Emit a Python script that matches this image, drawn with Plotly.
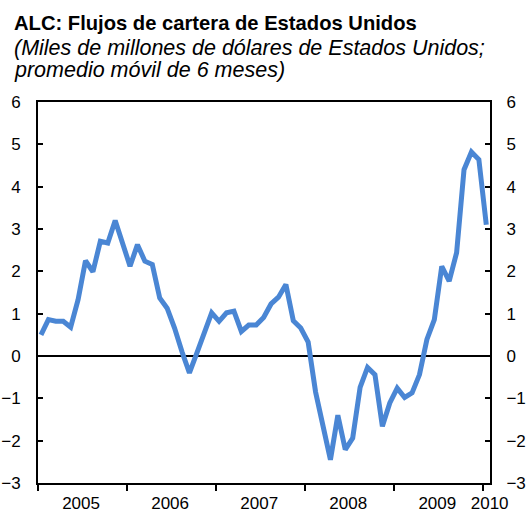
import plotly.graph_objects as go

# Monthly index (0 = Jan 2005)
months = list(range(61))
flows = [0.50, 0.86, 0.82, 0.82, 0.68, 1.33, 2.25, 1.99, 2.71, 2.67,
         3.20, 2.63, 2.12, 2.63, 2.24, 2.16, 1.37, 1.13, 0.66, 0.10,
         -0.40, 0.07, 0.52, 1.02, 0.82, 1.02, 1.06, 0.58, 0.73, 0.73,
         0.91, 1.23, 1.39, 1.69, 0.83, 0.66, 0.33, -0.85, -1.65, -2.45,
         -1.40, -2.21, -1.94, -0.74, -0.27, -0.44, -1.66, -1.11, -0.76, -0.98,
         -0.87, -0.44, 0.39, 0.86, 2.12, 1.77, 2.44, 4.40, 4.82, 4.64,
         3.10]
year_labels = ["2005", "2006", "2007", "2008", "2009", "2010"]
year_label_pos = [5.4, 17.4, 29.4, 41.4, 53.4, 60.45]
y_ticks = [-3, -2, -1, 0, 1, 2, 3, 4, 5, 6]

FONT = "Liberation Sans, Arial, sans-serif"
W, H = 526, 517
L, R, T, B = 38, 36, 102, 34

fig = go.Figure()
fig.add_trace(go.Scatter(x=months, y=flows, mode="lines",
                         line=dict(color="#4A86D4", width=5),
                         showlegend=False, hoverinfo="skip"))
fig.add_trace(go.Scatter(x=[months[0]], y=[flows[0]], yaxis="y2", mode="lines",
                         line=dict(width=0), showlegend=False, hoverinfo="skip"))

fig.add_hline(y=0, line=dict(color="black", width=2), layer="below")

fig.update_layout(
    width=W, height=H,
    margin=dict(l=L, r=R, t=T, b=B),
    paper_bgcolor="white", plot_bgcolor="white",
    font=dict(family=FONT, size=17, color="black"),
    xaxis=dict(range=[-0.4, 60.5], tickmode="array", tickvals=year_label_pos,
               ticktext=year_labels, ticks="", showgrid=False, zeroline=False,
               showline=True, linecolor="black", linewidth=2, mirror=True,
               automargin=False, ticklabelstandoff=4,
               tickfont=dict(size=17),
               minor=dict(tickmode="linear", tick0=-0.4, dtick=12, ticks="outside",
                          ticklen=6, tickwidth=2, tickcolor="black", showgrid=False)),
    yaxis=dict(range=[-3, 6], tickmode="array", tickvals=y_ticks,
               ticks="inside", ticklen=5, tickwidth=2, tickcolor="black",
               showgrid=False, zeroline=False, showline=True, linecolor="black",
               linewidth=2, ticklabelstandoff=12, automargin=False,
               tickfont=dict(size=17)),
    yaxis2=dict(range=[-3, 6], tickmode="array", tickvals=y_ticks, overlaying="y",
                side="right", ticks="inside", ticklen=5, tickwidth=2, tickcolor="black",
                showgrid=False, zeroline=False, showline=True, linecolor="black",
                linewidth=2, ticklabelstandoff=11, automargin=False,
                tickfont=dict(size=17)),
)

def py(px_from_top):
    return (H - B - px_from_top) / (H - T - B)
x_left = -(L - 12) / (W - L - R)

fig.add_annotation(xref="paper", yref="paper", x=x_left, y=py(10), xanchor="left", yanchor="top",
                   text="<b>ALC: Flujos de cartera de Estados Unidos</b>",
                   showarrow=False, font=dict(size=20.2, family=FONT))
fig.add_annotation(xref="paper", yref="paper", x=x_left, y=py(34), xanchor="left", yanchor="top",
                   text="<i>(Miles de millones de dólares de Estados Unidos;</i>",
                   showarrow=False, font=dict(size=21.5, family=FONT))
fig.add_annotation(xref="paper", yref="paper", x=x_left, y=py(56), xanchor="left", yanchor="top",
                   text="<i>promedio móvil de 6 meses)</i>",
                   showarrow=False, font=dict(size=21.5, family=FONT))

fig.write_html("out.html", config={"displayModeBar": False},
               post_script="document.body.style.margin='0';document.body.style.overflow='hidden';")
